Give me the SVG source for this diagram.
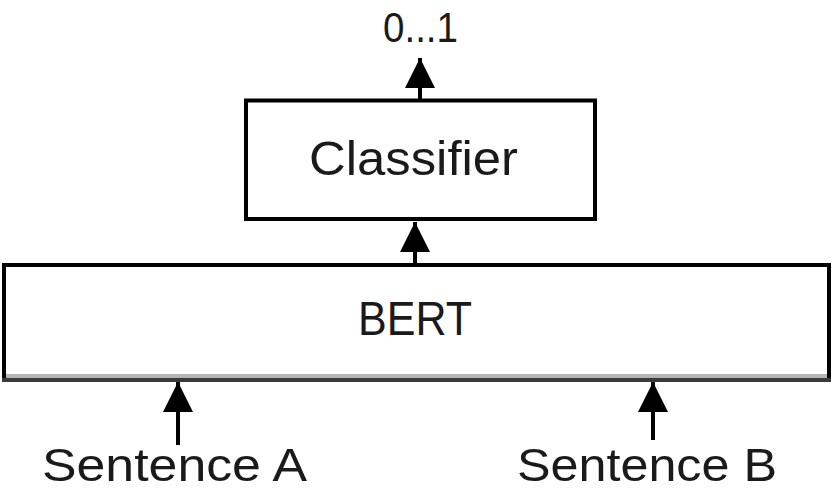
<svg xmlns="http://www.w3.org/2000/svg" width="833" height="491" viewBox="0 0 833 491">
  <style>
    .box { fill: #ffffff; stroke: #000000; stroke-width: 4; }
    .lbl { font-family: "Liberation Sans", "Open Sans", sans-serif; font-size: 48px; fill: #1a1a1a; }
    .wire { stroke: #000000; stroke-width: 4; fill: none; }
  </style>
  <defs>
    <marker id="head" markerUnits="userSpaceOnUse" markerWidth="30" markerHeight="30" refX="30" refY="15" orient="auto">
      <path d="M0,0 L30,15 L0,30 Z" fill="#000000"/>
    </marker>
  </defs>

  <rect width="833" height="491" fill="#ffffff"/>

  <!-- output label -->
  <g id="output">
    <text class="lbl" x="383" y="42" textLength="75" lengthAdjust="spacingAndGlyphs" style="font-size:42px">0...1</text>
  </g>

  <!-- classifier head -->
  <g id="classifier">
    <rect class="box" x="246" y="100.5" width="349" height="118.5"/>
    <text class="lbl" x="309" y="175" textLength="209" lengthAdjust="spacingAndGlyphs">Classifier</text>
  </g>

  <!-- encoder -->
  <g id="bert">
    <rect x="4" y="265" width="825" height="115" fill="#ffffff"/>
    <path d="M4,382 V265 H829 V382" class="wire"/>
    <line x1="6" y1="376" x2="827" y2="376" stroke="#b4b4b4" stroke-width="4"/>
    <line x1="2" y1="380" x2="831" y2="380" stroke="#3a3a3a" stroke-width="4"/>
    <text class="lbl" x="358" y="335" textLength="114" lengthAdjust="spacingAndGlyphs">BERT</text>
  </g>

  <!-- inputs -->
  <g id="sentence-a">
    <text class="lbl" x="42" y="481" textLength="265" lengthAdjust="spacingAndGlyphs" style="font-size:47px">Sentence A</text>
  </g>
  <g id="sentence-b">
    <text class="lbl" x="517" y="481" textLength="260" lengthAdjust="spacingAndGlyphs" style="font-size:47px">Sentence B</text>
  </g>

  <!-- connectors -->
  <g id="connectors">
    <line class="wire" x1="420" y1="100" x2="420" y2="58" marker-end="url(#head)"/>
    <line class="wire" x1="415" y1="263" x2="415" y2="222" marker-end="url(#head)"/>
    <line class="wire" x1="178" y1="445" x2="178" y2="382" marker-end="url(#head)"/>
    <line class="wire" x1="653" y1="440" x2="653" y2="382" marker-end="url(#head)"/>
  </g>
</svg>
